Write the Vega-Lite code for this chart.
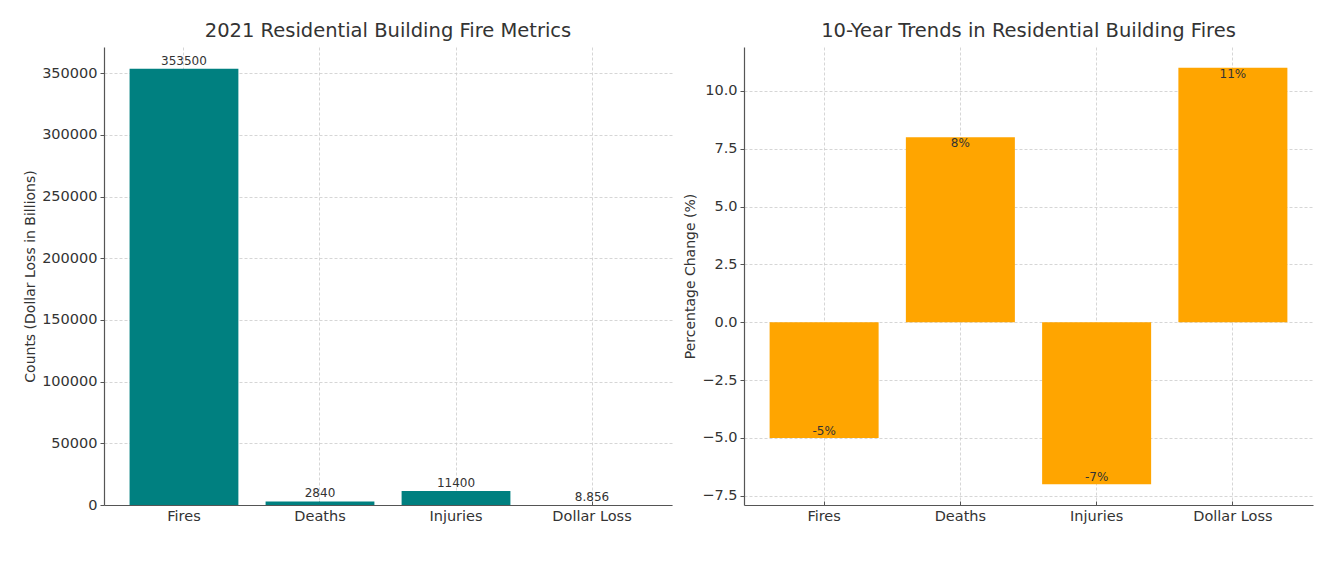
{
  "$schema": "https://vega.github.io/schema/vega-lite/v6.json",
  "background": "white",
  "padding": {"left": 23, "top": 20, "right": 25, "bottom": 40},
  "bounds": "flush",
  "spacing": 72,
  "config": {
    "font": "DejaVu Sans",
    "view": {"stroke": null},
    "title": {"fontSize": 19.5, "fontWeight": "normal", "color": "#333333", "offset": 6, "font": "DejaVu Sans"},
    "axis": {
      "zindex": 1,
      "domainColor": "#555555",
      "domainWidth": 1.2,
      "tickColor": "#555555",
      "tickWidth": 1,
      "tickSize": 4,
      "labelFontSize": 14.5,
      "labelColor": "#333333",
      "labelFont": "DejaVu Sans",
      "titleFont": "DejaVu Sans",
      "titleFontSize": 14,
      "titleFontWeight": "normal",
      "titleColor": "#333333",
      "grid": true,
      "gridColor": "#cccccc",
      "gridDash": [3, 2],
      "gridWidth": 0.8,
      "labelPadding": 3
    }
  },
  "hconcat": [
    {
      "width": 568,
      "height": 458,
      "title": {"text": "2021 Residential Building Fire Metrics"},
      "data": {"values": [
        {"metric": "Fires", "value": 353500, "label": "353500"},
        {"metric": "Deaths", "value": 2840, "label": "2840"},
        {"metric": "Injuries", "value": 11400, "label": "11400"},
        {"metric": "Dollar Loss", "value": 8.856, "label": "8.856"}
      ]},
      "encoding": {
        "x": {"field": "metric", "type": "nominal", "sort": null,
          "scale": {"paddingInner": 0.2, "paddingOuter": 0.188},
          "axis": {"title": null, "labelAngle": 0, "grid": true, "tickSize": -4, "labelPadding": 8}},
        "y": {"field": "value", "type": "quantitative",
          "scale": {"domain": [0, 371175], "nice": false},
          "axis": {"title": "Counts (Dollar Loss in Billions)", "format": "d", "values": [0, 50000, 100000, 150000, 200000, 250000, 300000, 350000], "titlePadding": 4}}
      },
      "layer": [
        {"mark": {"type": "bar", "color": "#008080"}},
        {"mark": {"type": "text", "baseline": "bottom", "dy": -1, "fontSize": 12, "color": "#333333"},
         "encoding": {"text": {"field": "label"}}}
      ]
    },
    {
      "width": 569,
      "height": 458,
      "title": {"text": "10-Year Trends in Residential Building Fires"},
      "data": {"values": [
        {"metric": "Fires", "change": -5, "label": "-5%"},
        {"metric": "Deaths", "change": 8, "label": "8%"},
        {"metric": "Injuries", "change": -7, "label": "-7%"},
        {"metric": "Dollar Loss", "change": 11, "label": "11%"}
      ]},
      "encoding": {
        "x": {"field": "metric", "type": "nominal", "sort": null,
          "scale": {"paddingInner": 0.2, "paddingOuter": 0.188},
          "axis": {"title": null, "labelAngle": 0, "grid": true, "tickSize": -4, "labelPadding": 8}},
        "y": {"field": "change", "type": "quantitative",
          "scale": {"domain": [-7.9, 11.9], "nice": false, "zero": false},
          "axis": {"title": "Percentage Change (%)", "format": ".1f", "values": [-7.5, -5, -2.5, 0, 2.5, 5, 7.5, 10], "titlePadding": 4}}
      },
      "layer": [
        {"mark": {"type": "bar", "color": "#FFA500"}},
        {"transform": [{"filter": "datum.change >= 0"}],
         "mark": {"type": "text", "baseline": "middle", "dy": 6, "fontSize": 12, "color": "#333333"},
         "encoding": {"text": {"field": "label"}}},
        {"transform": [{"filter": "datum.change < 0"}],
         "mark": {"type": "text", "baseline": "middle", "dy": -7, "fontSize": 12, "color": "#333333"},
         "encoding": {"text": {"field": "label"}}}
      ]
    }
  ]
}
